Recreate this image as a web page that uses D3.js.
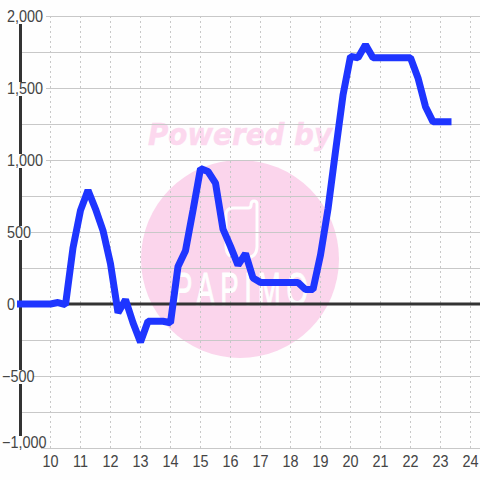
<!DOCTYPE html>
<html>
<head>
<meta charset="utf-8">
<script src="https://d3js.org/d3.v7.min.js"></script>
<style>
  html, body { margin: 0; padding: 0; background: #fefefe; }
  text { font-family: "Liberation Sans", sans-serif; }
</style>
</head>
<body>
<div id="chart"></div>
<script>
var hours = [9, 10, 10.25, 10.5, 10.75, 11, 11.25, 11.5, 11.75, 12, 12.25, 12.5, 12.75, 13, 13.25, 13.75, 14, 14.25, 14.5, 14.75, 15, 15.25, 15.5, 15.75, 16, 16.25, 16.5, 16.75, 17, 18.25, 18.5, 18.75, 19, 19.25, 19.5, 19.75, 20, 20.25, 20.5, 20.75, 22, 22.25, 22.5, 22.75, 23.25];
var values = [0, 0, 10, -5, 390, 650, 790, 660, 510, 280, -60, 30, -130, -265, -120, -120, -130, 260, 370, 650, 940, 920, 840, 520, 400, 270, 350, 180, 150, 150, 100, 100, 340, 660, 1060, 1450, 1720, 1710, 1800, 1710, 1710, 1570, 1370, 1265, 1265];
var xTicks = [10, 11, 12, 13, 14, 15, 16, 17, 18, 19, 20, 21, 22, 23, 24];
var yLabels = [2000, 1500, 1000, 500, 0, -500, -1000];
var yGrid = [2000, 1750, 1500, 1250, 1000, 750, 500, 250, -250, -500, -750, -1000];

var width = 480, height = 480;

var x = d3.scaleLinear().domain([10, 24]).range([50.5, 470.5]);
var y = d3.scaleLinear().domain([-1000, 2000]).range([448, 16]);

var svg = d3.select("#chart").append("svg")
  .attr("width", width)
  .attr("height", height)
  .style("display", "block");

// watermark goes under the grid
var mark = svg.append("g");
mark.append("circle")
  .attr("cx", 240).attr("cy", 259).attr("r", 99)
  .attr("fill", "#fbd5ec");
mark.append("text")
  .attr("x", 240).attr("y", 145)
  .attr("text-anchor", "middle")
  .attr("font-size", 30)
  .attr("font-weight", "bold")
  .attr("font-style", "italic")
  .attr("textLength", 184)
  .attr("lengthAdjust", "spacingAndGlyphs")
  .style("font-family", "'DejaVu Sans'")
  .attr("fill", "#fcd8ee")
  .attr("stroke", "#fcd8ee")
  .attr("stroke-width", 0.5)
  .text("Powered by");
mark.append("text")
  .attr("transform", "translate(241,305) scale(0.6,1)")
  .attr("text-anchor", "middle")
  .attr("font-size", 46)
  .attr("textLength", 223)
  .attr("lengthAdjust", "spacing")
  .attr("fill", "#fefefe")
  .attr("stroke", "#fefefe")
  .attr("stroke-width", 1)
  .text("PAPIMO");
mark.append("path")
  .attr("d", "M226 215Q226 208 233 208H248Q251 208 251 205Q251 201 254 201Q257 201 257 204V246Q257 258 245 258H238Q226 258 226 246Z")
  .attr("fill", "none")
  .attr("stroke", "#fefefe")
  .attr("stroke-width", 3);

// grid
svg.append("g").selectAll("line")
  .data(yGrid)
  .join("line")
  .attr("x1", 20).attr("x2", width)
  .attr("y1", function (d) { return Math.round(y(d)) + 0.5; })
  .attr("y2", function (d) { return Math.round(y(d)) + 0.5; })
  .attr("stroke", "#c8c8c8");

svg.append("g").selectAll("line")
  .data(xTicks)
  .join("line")
  .attr("x1", function (d) { return x(d); })
  .attr("x2", function (d) { return x(d); })
  .attr("y1", y(2000)).attr("y2", y(-1000))
  .attr("stroke", "#c8c8c8")
  .attr("stroke-dasharray", "2,3");

// y axis and zero line
svg.append("line")
  .attr("x1", 20.5).attr("x2", 20.5)
  .attr("y1", y(2000)).attr("y2", y(-1000))
  .attr("stroke", "#333").attr("stroke-width", 3);
svg.append("line")
  .attr("x1", 20).attr("x2", width)
  .attr("y1", y(0)).attr("y2", y(0))
  .attr("stroke", "#333").attr("stroke-width", 3);

// the bottom label gets pushed up so it stays clear of the x labels
function labelY(d) { return d === -1000 ? y(d) - 6 : y(d); }

// y labels sit on a plain box that cuts the axis
var yLab = svg.append("g").selectAll("g")
  .data(yLabels)
  .join("g");
yLab.append("rect")
  .attr("x", function (d) { return d < 0 ? 0 : 5; })
  .attr("y", function (d) { return d === -1000 ? 436 : labelY(d) - 6; })
  .attr("width", function (d) { return Math.abs(d) >= 1000 ? 41 : (d === 0 ? 13 : (d < 0 ? 33 : 26)); })
  .attr("height", 14)
  .attr("fill", "#fefefe");
yLab.append("text")
  .attr("transform", function (d) { return "translate(" + (d < 0 ? 2 : 7) + "," + (labelY(d) + 5.5) + ") scale(0.9,1)"; })
  .attr("font-size", 16)
  .attr("fill", "#444")
  .text(function (d) { return d3.format(",")(d); });

// x labels
svg.append("g").selectAll("text")
  .data(xTicks)
  .join("text")
  .attr("transform", function (d) { return "translate(" + x(d) + ",467) scale(0.9,1)"; })
  .attr("text-anchor", "middle")
  .attr("font-size", 16)
  .attr("fill", "#444")
  .text(function (d) { return d; });

// the series
var line = d3.line()
  .x(function (d, i) { return x(hours[i]); })
  .y(function (d) { return y(d); });

svg.append("path")
  .datum(values)
  .attr("d", line)
  .attr("fill", "none")
  .attr("stroke", "#1e35ff")
  .attr("stroke-width", 7)
  .attr("stroke-linejoin", "bevel")
  .attr("stroke-linecap", "square");
</script>
</body>
</html>
